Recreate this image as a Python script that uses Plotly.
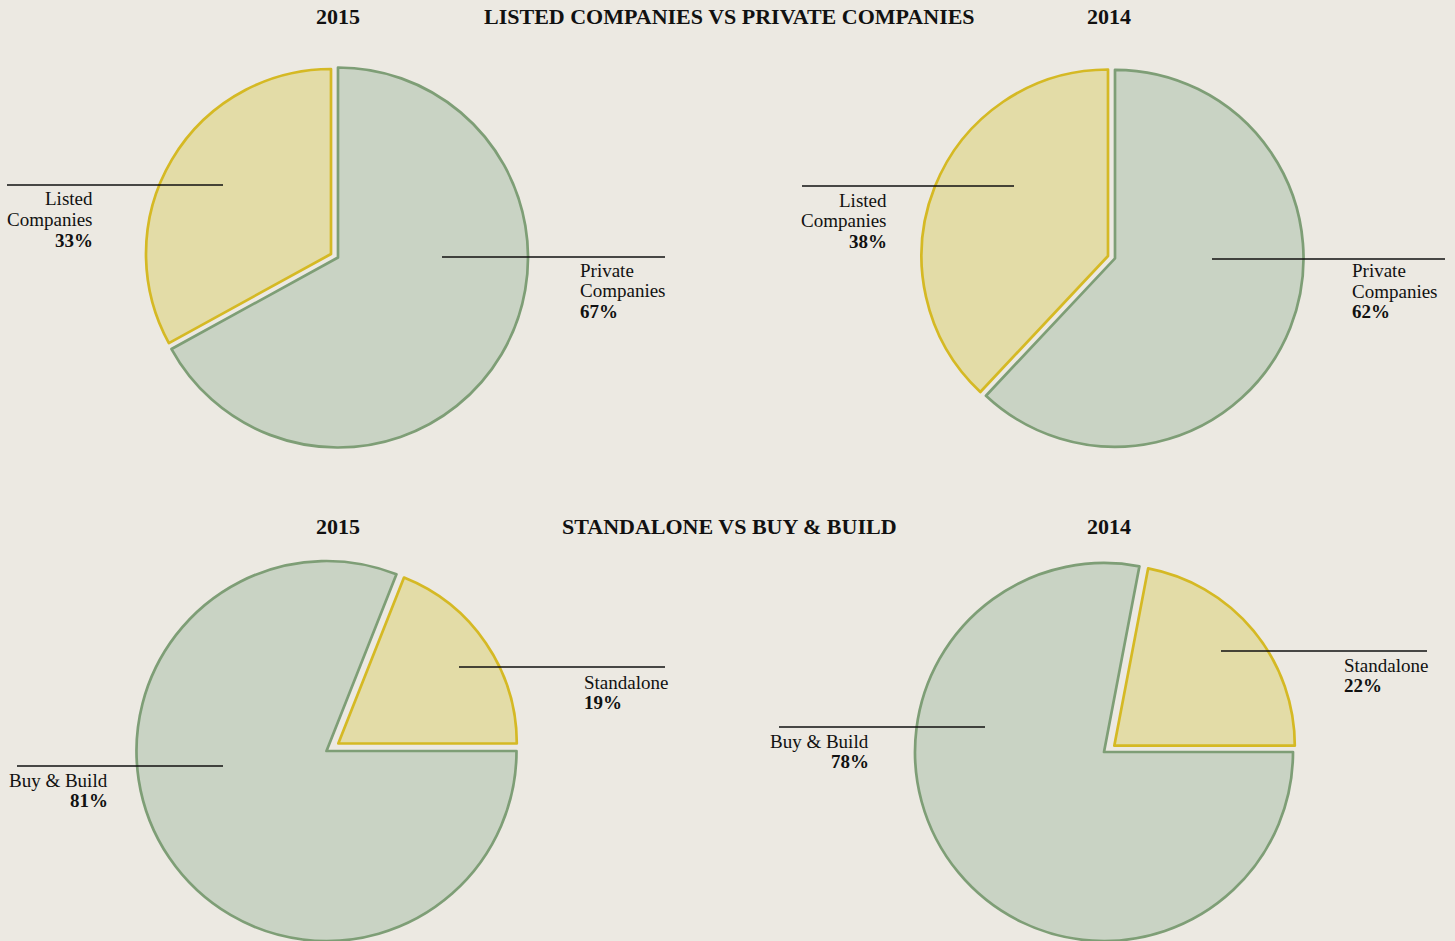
import plotly.graph_objects as go

W, H = 1455, 941

# ---- data ----
section_titles = ["LISTED COMPANIES VS PRIVATE COMPANIES", "STANDALONE VS BUY & BUILD"]
years = ["2015", "2014"]

listed_private_labels = ["Private\nCompanies", "Listed\nCompanies"]
listed_private_2015 = [67, 33]
listed_private_2014 = [62, 38]

buy_standalone_labels = ["Buy & Build", "Standalone"]
buy_standalone_2015 = [81, 19]
buy_standalone_2014 = [78, 22]

# ---- styling ----
BG = "#ECE9E2"
GREEN_FILL = "#C9D3C4"
GREEN_LINE = "#7E9E76"
YEL_FILL = "#E3DCA7"
YEL_LINE = "#D5B924"
CLEAR = "rgba(0,0,0,0)"
FONT = "Liberation Serif"
TXT = "#111111"

# pie geometry in pixels: main (green) centre/radius, exploded (yellow) centre/radius
pies = [
    dict(values=listed_private_2015, labels=listed_private_labels,
         g=(338, 257.5, 190), y=(331, 254, 185), rot=0),
    dict(values=listed_private_2014, labels=listed_private_labels,
         g=(1115, 258.3, 188.5), y=(1108, 256, 186.5), rot=0),
    dict(values=buy_standalone_2015, labels=buy_standalone_labels,
         g=(326.5, 751, 190), y=(338.3, 743.5, 178.5), rot=90),
    dict(values=buy_standalone_2014, labels=buy_standalone_labels,
         g=(1104, 752, 189), y=(1114.3, 745.7, 180.5), rot=90),
]

# label callouts: line (x0, x1, y), text x, anchor, first text-line y  -- per pie: [green, yellow]
callouts = [
    [dict(lx=(442, 665), ly=257, tx=578, anchor="left", ty=270),
     dict(lx=(7, 223), ly=185, tx=95, anchor="right", ty=199)],
    [dict(lx=(1212, 1445), ly=259, tx=1350, anchor="left", ty=271),
     dict(lx=(802, 1014), ly=186, tx=889, anchor="right", ty=200)],
    [dict(lx=(17, 223), ly=766, tx=110, anchor="right", ty=780),
     dict(lx=(459, 665), ly=667, tx=582, anchor="left", ty=682)],
    [dict(lx=(779, 985), ly=727, tx=871, anchor="right", ty=741),
     dict(lx=(1221, 1427), ly=651, tx=1342, anchor="left", ty=665)],
]


def px_x(x):
    return x / W


def px_y(y):
    return 1 - y / H


def domain(cx, cy, r):
    return dict(x=[max(0.0, (cx - r) / W), min(1.0, (cx + r) / W)],
                y=[max(0.0, 1 - (cy + r) / H), min(1.0, 1 - (cy - r) / H)])


fig = go.Figure()
for p in pies:
    # main slice (green)
    fig.add_trace(go.Pie(
        values=p["values"], labels=p["labels"], sort=False, direction="clockwise",
        rotation=p["rot"], textinfo="none", hoverinfo="skip", showlegend=False,
        marker=dict(colors=[GREEN_FILL, CLEAR], line=dict(color=[GREEN_LINE, CLEAR], width=2.7)),
        domain=domain(*p["g"]),
    ))
    # exploded slice (yellow)
    fig.add_trace(go.Pie(
        values=p["values"], labels=p["labels"], sort=False, direction="clockwise",
        rotation=p["rot"], textinfo="none", hoverinfo="skip", showlegend=False,
        marker=dict(colors=[CLEAR, YEL_FILL], line=dict(color=[CLEAR, YEL_LINE], width=2.7)),
        domain=domain(*p["y"]),
    ))

annotations = []
shapes = []
LINE_GAP = 20.5
for p, cs in zip(pies, callouts):
    for i, c in enumerate(cs):
        shapes.append(dict(type="line", xref="paper", yref="paper",
                           x0=px_x(c["lx"][0]), x1=px_x(c["lx"][1]),
                           y0=px_y(c["ly"]), y1=px_y(c["ly"]),
                           line=dict(color=TXT, width=1.3)))
        lines = p["labels"][i].split("\n") + [f"<b>{p['values'][i]}%</b>"]
        for k, t in enumerate(lines):
            annotations.append(dict(
                text=t, xref="paper", yref="paper", showarrow=False,
                x=px_x(c["tx"]), y=px_y(c["ty"] + k * LINE_GAP),
                xanchor=c["anchor"], yanchor="middle",
                font=dict(family=FONT, size=19, color=TXT),
            ))

# titles
for row_y, title in zip([17, 526], section_titles):
    annotations.append(dict(text=f"<b>{title}</b>", xref="paper", yref="paper", showarrow=False,
                            x=px_x(729), y=px_y(row_y), xanchor="center", yanchor="middle",
                            font=dict(family=FONT, size=22, color=TXT)))
    for yx, yr in zip([338, 1109], years):
        annotations.append(dict(text=f"<b>{yr}</b>", xref="paper", yref="paper", showarrow=False,
                                x=px_x(yx), y=px_y(row_y), xanchor="center", yanchor="middle",
                                font=dict(family=FONT, size=22, color=TXT)))

fig.update_layout(
    width=W, height=H,
    margin=dict(l=0, r=0, t=0, b=0),
    paper_bgcolor=BG, plot_bgcolor=BG,
    shapes=shapes, annotations=annotations,
    showlegend=False,
)

fig.write_html(
    "out.html",
    config={"displayModeBar": False},
    post_script="document.body.style.margin='0';document.body.style.background='" + BG + "';",
)
